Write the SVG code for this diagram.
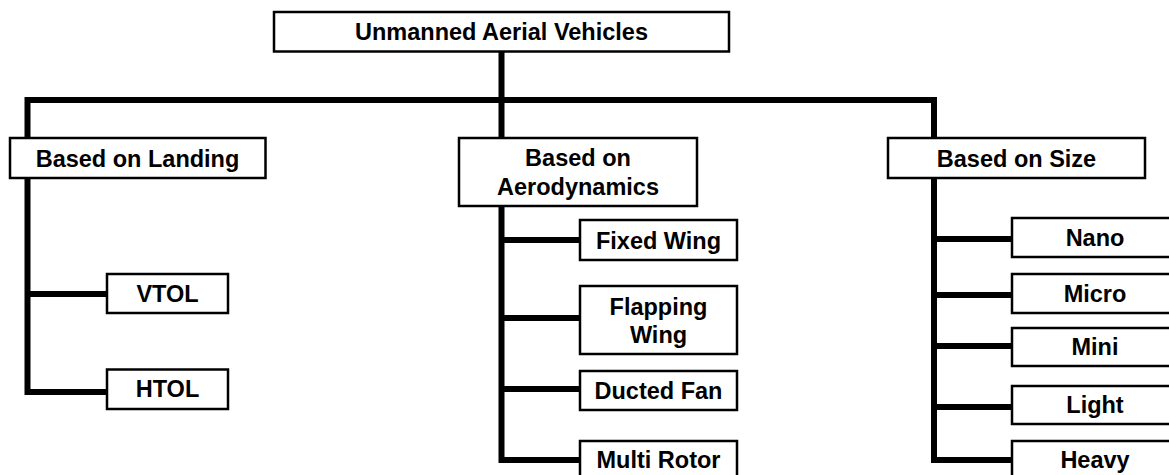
<svg xmlns="http://www.w3.org/2000/svg" width="1169" height="475" viewBox="0 0 1169 475">
<style>
.box{fill:#fff;stroke:#000;stroke-width:2.5}
.ln{fill:none;stroke:#000;stroke-width:6;stroke-linejoin:miter;stroke-linecap:square}
text{font-family:"Liberation Sans",Arial,sans-serif;font-weight:bold;font-size:23.5px;fill:#000;text-anchor:middle}
</style>
<rect width="1169" height="475" fill="#fff"/>
<g id="connectors">
<path class="ln" d="M501.5,52 V100"/>
<path class="ln" d="M27.5,138 V100 H934 V138"/>
<path class="ln" d="M501.5,100 V138"/>
<path class="ln" d="M27.5,178 V392 H107 M27.5,294 H107"/>
<path class="ln" d="M501.5,206 V460 H580 M501.5,240 H580 M501.5,318 H580 M501.5,389 H580"/>
<path class="ln" d="M934,178 V460 H1012 M934,239 H1012 M934,295 H1012 M934,346 H1012 M934,407 H1012"/>
</g>
<g id="root"><rect class="box" x="274" y="12" width="455" height="39.5"/><text x="501.5" y="40">Unmanned Aerial Vehicles</text></g>
<g id="landing"><rect class="box" x="10" y="138" width="255.5" height="40"/><text x="137.5" y="166.5">Based on Landing</text></g>
<g id="aero"><rect class="box" x="459" y="138" width="238" height="68"/><text x="578" y="166">Based on</text><text x="578" y="194.5">Aerodynamics</text></g>
<g id="size"><rect class="box" x="888" y="138" width="257" height="40"/><text x="1016.5" y="166.5">Based on Size</text></g>
<g id="vtol"><rect class="box" x="107" y="274" width="121" height="39"/><text x="167.5" y="301.5">VTOL</text></g>
<g id="htol"><rect class="box" x="107" y="369.5" width="121" height="39.5"/><text x="167.5" y="397">HTOL</text></g>
<g id="fixed"><rect class="box" x="580" y="220" width="157" height="40"/><text x="658.5" y="249">Fixed Wing</text></g>
<g id="flapping"><rect class="box" x="580" y="286" width="157" height="68"/><text x="658.5" y="315">Flapping</text><text x="658.5" y="343">Wing</text></g>
<g id="ducted"><rect class="box" x="580" y="371" width="157" height="39"/><text x="658.5" y="399">Ducted Fan</text></g>
<g id="multirotor"><rect class="box" x="580" y="441" width="157" height="45"/><text x="658.5" y="468">Multi Rotor</text></g>
<g id="nano"><rect class="box" x="1012" y="218" width="166" height="39"/><text x="1095" y="246">Nano</text></g>
<g id="micro"><rect class="box" x="1012" y="274" width="166" height="39"/><text x="1095" y="301.5">Micro</text></g>
<g id="mini"><rect class="box" x="1012" y="328" width="166" height="38"/><text x="1095" y="355">Mini</text></g>
<g id="light"><rect class="box" x="1012" y="386" width="166" height="38"/><text x="1095" y="412.5">Light</text></g>
<g id="heavy"><rect class="box" x="1012" y="441" width="166" height="45"/><text x="1095" y="468">Heavy</text></g>
</svg>
